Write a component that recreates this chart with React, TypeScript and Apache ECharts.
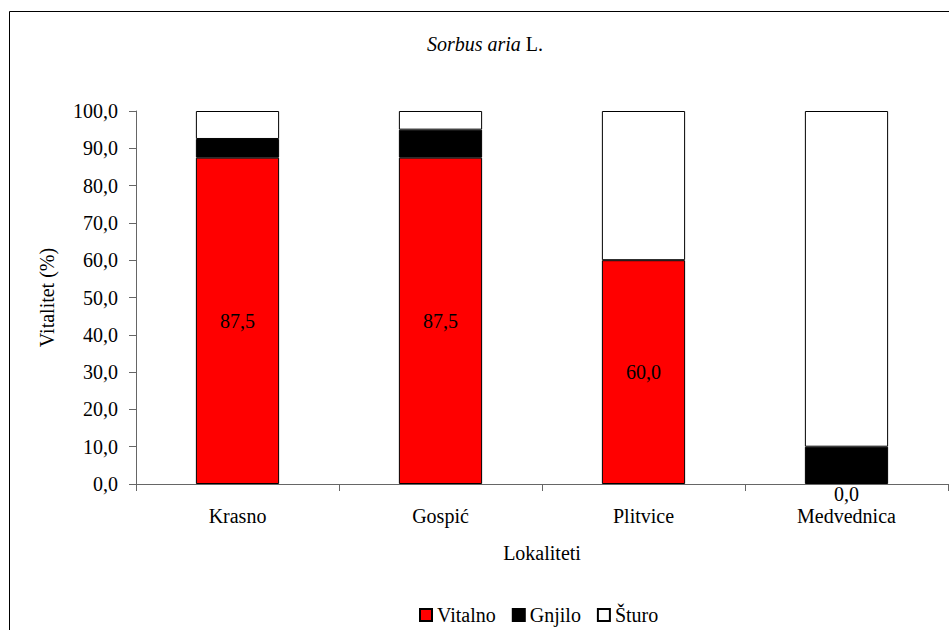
import React, { useEffect, useRef } from "react";
import * as echarts from "echarts";

const categories = ["Krasno", "Gospić", "Plitvice", "Medvednica"];
const vitalno = [87.5, 87.5, 60.0, 0.0];
const gnjilo = [5.0, 7.5, 0.0, 10.0];
const sturo = [7.5, 5.0, 40.0, 90.0];
const seriesNames = ["Vitalno", "Gnjilo", "Šturo"];

const FONT = "Liberation Serif";
const fmt = (v: number) => v.toFixed(1).replace(".", ",");

export default function App() {
  const ref = useRef<HTMLDivElement>(null);
  useEffect(() => {
    if (!ref.current) return;
    const chart = echarts.init(ref.current, null, { renderer: "svg" });
    const border = { borderColor: "#000", borderWidth: 1 };
    const txt = { fontFamily: FONT, fontSize: 20, color: "#000" };
    const noBorderZero = (arr: number[]) =>
      arr.map((v) => (v === 0 ? { value: v, itemStyle: { borderWidth: 0 } } : v));
    chart.setOption({
      animation: false,
      backgroundColor: "#fff",
      textStyle: { fontFamily: FONT, color: "#000" },
      title: {
        text: "{i|Sorbus aria} {n|L.}",
        left: 480,
        textAlign: "center",
        top: 29,
        textStyle: {
          ...txt,
          fontWeight: "normal",
          rich: {
            i: { ...txt, fontStyle: "italic" },
            n: { ...txt },
          },
        },
      },
      graphic: [
        {
          type: "rect",
          shape: { x: 9.5, y: 11.5, width: 1000, height: 700 },
          style: { fill: "none", stroke: "#000", lineWidth: 1 },
          silent: true,
        },
      ],
      legend: {
        data: seriesNames,
        left: 419,
        top: 605,
        padding: 0,
        icon: "rect",
        itemWidth: 12,
        itemHeight: 12,
        itemGap: 16,
        textStyle: { ...txt },
      },
      grid: { left: 136, right: 1, top: 111, bottom: 146, containLabel: false },
      xAxis: {
        type: "category",
        data: categories,
        name: "Lokaliteti",
        nameLocation: "middle",
        nameGap: 59,
        nameTextStyle: { ...txt },
        axisLine: { lineStyle: { color: "#666", width: 1 } },
        axisTick: { show: true, length: 7, lineStyle: { color: "#666" } },
        axisLabel: { ...txt, margin: 22 },
      },
      yAxis: {
        type: "value",
        min: 0,
        max: 100,
        interval: 10,
        name: "Vitalitet (%)",
        nameLocation: "middle",
        nameGap: 79,
        nameTextStyle: { ...txt },
        axisLine: { show: true, lineStyle: { color: "#666", width: 1 } },
        axisTick: { show: true, length: 7, lineStyle: { color: "#666" } },
        axisLabel: { ...txt, margin: 18, formatter: (v: number) => fmt(v) },
        splitLine: { show: false },
      },
      series: [
        {
          name: seriesNames[0],
          type: "bar",
          stack: "total",
          barWidth: "41%",
          itemStyle: { color: "#ff0000", ...border },
          label: {
            show: true,
            position: "inside",
            ...txt,
            formatter: (p: any) => fmt(p.value),
          },
          data: vitalno.map((v) =>
            v === 0
              ? { value: v, itemStyle: { borderWidth: 0 }, label: { position: "bottom", distance: 0 } }
              : v
          ),
        },
        {
          name: seriesNames[1],
          type: "bar",
          stack: "total",
          itemStyle: { color: "#000000", ...border },
          data: noBorderZero(gnjilo),
        },
        {
          name: seriesNames[2],
          type: "bar",
          stack: "total",
          itemStyle: { color: "#ffffff", ...border },
          data: noBorderZero(sturo),
        },
      ],
    });
    return () => chart.dispose();
  }, []);
  return (
    <div
      ref={ref}
      style={{ position: "fixed", left: 0, top: 0, width: 949, height: 630, background: "#fff" }}
    />
  );
}
